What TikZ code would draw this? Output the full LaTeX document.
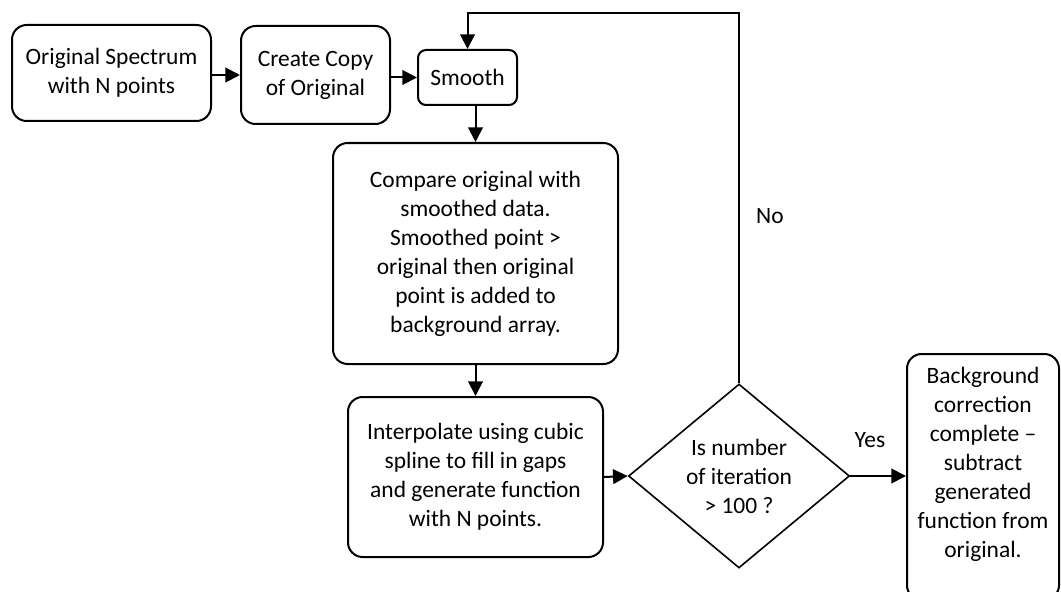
\documentclass[tikz,border=0pt]{standalone}
\usepackage{fontspec}
\setmainfont{Carlito}
\usetikzlibrary{arrows.meta,shapes.geometric}
\begin{document}
\begin{tikzpicture}[x=0.75pt,y=-0.75pt,
  every node/.style={font=\fontsize{17.6}{21.75}\selectfont},
  box/.style={draw,line width=1.5pt,rounded corners=11pt,align=center,inner sep=0pt},
  arr/.style={line width=1.5pt,-{Triangle[length=11pt,width=11pt]}},
  decision/.style={draw,line width=1.2pt,diamond,aspect=1.2,inner sep=0pt,align=center,
    minimum width=165.75pt,minimum height=138pt}]
\clip (0,0) rectangle (1061,592);
\node[box,minimum width=149.25pt,minimum height=72pt] (orig) at (111.5,73) {Original Spectrum\\with N points};
\node[box,minimum width=111.75pt,minimum height=73.5pt] (copy) at (315.5,75) {Create Copy\\of Original};
\node[box,rounded corners=6pt,minimum width=74.25pt,minimum height=41.25pt] (smooth) at (467.5,77.5) {Smooth};
\node[box,minimum width=213.75pt,minimum height=165.75pt] (cmp) at (475.5,253.5) {Compare original with\\smoothed data.\\Smoothed point >\\original then original\\point is added to\\background array.};
\node[box,minimum width=191.25pt,minimum height=120pt] (interp) at (475.5,477) {Interpolate using cubic\\spline to fill in gaps\\and generate function\\with N points.};
\node[decision] (dec) at (739,476) {Is number\\of iteration\\> 100 ?};
\node[box,minimum width=114pt,minimum height=184.5pt] (done) at (983,477) {Background\\correction\\complete –\\subtract\\generated\\function from\\original.\rule[-22pt]{0pt}{0pt}};
\node (no) at (770,216) {No};
\node (yes) at (870,440) {Yes};
\draw[arr] (orig.east|-copy.west) -- (copy.west);
\draw[arr] (copy.east|-smooth.west) -- (smooth.west);
\draw[arr] (smooth.south-|cmp.north) -- (cmp.north);
\draw[arr] (cmp.south) -- (interp.north);
\draw[arr] (interp.east) -- (dec.west);
\draw[arr] (dec.east) -- (done.west|-dec.east);
\draw[arr] (dec.north) -- (dec.north|-0,13) -| (smooth.north);
\end{tikzpicture}
\end{document}
